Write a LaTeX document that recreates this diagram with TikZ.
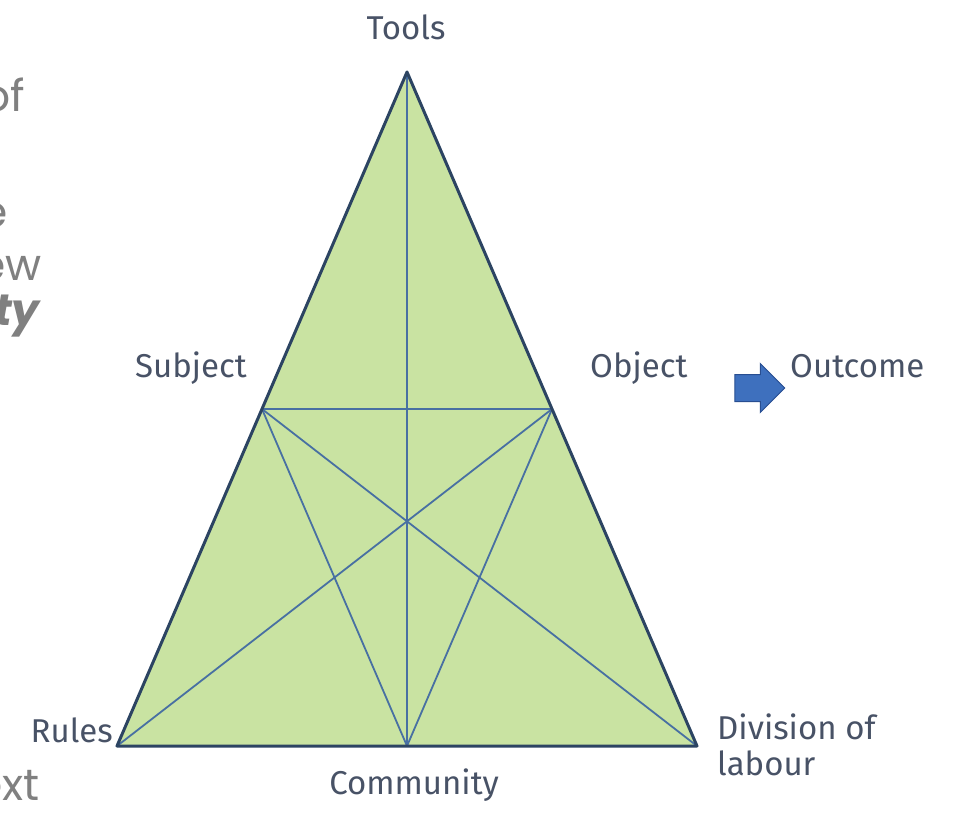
\documentclass[tikz,border=0pt]{standalone}
\usepackage{fontspec}
\setmainfont{Fira Sans}
\newfontfamily\fragfont{Poppins}
\usepackage{xcolor}
\usetikzlibrary{calc,shapes.arrows}

\definecolor{leafgreen}{RGB}{201,227,162}
\definecolor{edgeslate}{RGB}{44,68,98}
\definecolor{innerblue}{RGB}{72,112,162}
\definecolor{labelgray}{RGB}{72,82,102}
\definecolor{fraggray}{RGB}{128,128,128}
\definecolor{arrowblue}{RGB}{62,112,190}
\definecolor{arrowdark}{RGB}{40,78,145}

\tikzset{
  corner/.style={text=labelgray,font=\fontsize{33}{36}\selectfont,inner sep=0pt},
  frag/.style={text=fraggray,font=\fragfont\fontsize{44}{48}\selectfont,inner sep=0pt,anchor=base east},
  innerline/.style={innerblue,line width=1.8pt},
  outline/.style={edgeslate,line width=3pt,line join=round}
}

\begin{document}
\begin{tikzpicture}[x=1pt,y=-1pt]
\useasboundingbox (0,0) rectangle (957,813);

% Corners of the triangle
\coordinate (T) at (407,72);
\coordinate (R) at (117,746);
\coordinate (D) at (697,746);
\coordinate (S) at ($(T)!0.5!(R)$);
\coordinate (O) at ($(T)!0.5!(D)$);
\coordinate (C) at ($(R)!0.5!(D)$);

% Triangle fill
\fill[leafgreen] (T) -- (R) -- (D) -- cycle;

% Inner lines
\draw[innerline] (T) -- (C);
\draw[innerline] (S) -- (O);
\draw[innerline] (S) -- (D);
\draw[innerline] (O) -- (R);
\draw[innerline] (S) -- (C);
\draw[innerline] (O) -- (C);

% Outline
\draw[outline] (T) -- (R) -- (D) -- cycle;

% Labels
\node[corner] (tools) at (406,27) {Tools};
\node[corner,anchor=base east] (subject) at (247,377) {Subject};
\node[corner,anchor=base west] (object) at (590,377) {Object};
\node[corner,anchor=base west] (outcome) at (790,377) {Outcome};
\node[corner,anchor=base east] (rules) at (113,742) {Rules};
\node[corner,anchor=north west,align=left] (division) at (717,714) {Division of\\labour};
\node[corner,anchor=base] (community) at (414,794) {Community};

% Block arrow
\node[single arrow,fill=arrowblue,draw=arrowdark,line width=1pt,
      text height=0pt,text depth=0pt,inner xsep=0pt,inner ysep=13pt,
      single arrow head extend=11pt,minimum height=50pt] (toout) at (753,388) {};

% Cropped text at the left edge
\node[frag] (fragof) at (25,112) {of};
\node[frag] (frage) at (8,227) {e};
\node[frag] (fragw) at (42,280) {ew};
\node[frag] (fragty) at (40,325) {\bfseries\itshape ty};
\node[frag] (fragext) at (40,800) {ext};
\end{tikzpicture}
\end{document}
